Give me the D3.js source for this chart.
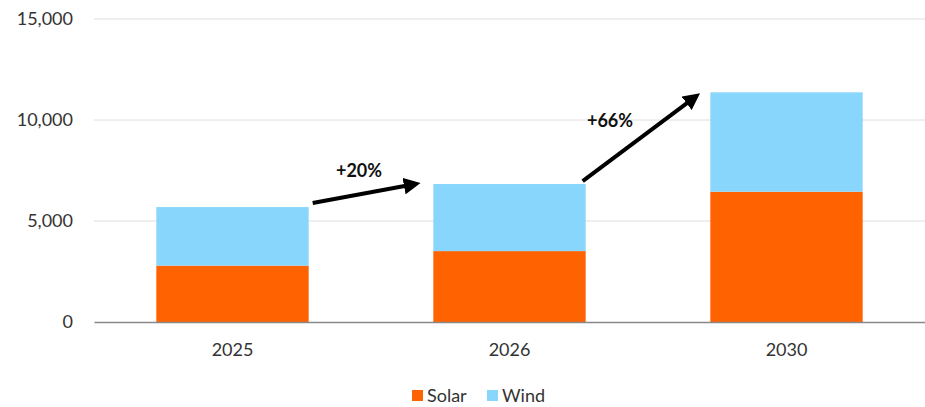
<!DOCTYPE html>
<html>
<head>
<meta charset="utf-8">
<script src="https://cdn.jsdelivr.net/npm/d3@7"></script>
<style>
  body { margin: 0; background: #fff; }
  text { font-family: Lato, "Open Sans", sans-serif; }
</style>
</head>
<body>
<svg id="chart" width="925" height="407"></svg>
<script>
// chart data
var years = ["2025", "2026", "2030"];
var solar = [2790, 3510, 6450];
var wind = [2900, 3320, 4920];
var yTicks = [0, 5000, 10000, 15000];
var growthLabels = ["+20%", "+66%"];
var seriesNames = ["Solar", "Wind"];
var seriesColors = ["#FF6200", "#89D6FD"];

var svg = d3.select("#chart");
var plotLeft = 94, plotRight = 925, plotTop = 19, plotBottom = 322;

var xScale = d3.scaleBand()
  .domain(years)
  .range([plotLeft, plotRight])
  .paddingInner(0.45)
  .paddingOuter(0.225);

var yScale = d3.scaleLinear()
  .domain([0, 15000])
  .range([plotBottom, plotTop]);

// gridlines
svg.append("g")
  .selectAll("line")
  .data(yTicks.slice(1))
  .enter().append("line")
  .attr("x1", plotLeft).attr("x2", plotRight)
  .attr("y1", d => yScale(d)).attr("y2", d => yScale(d))
  .attr("stroke", "#dedede").attr("stroke-width", 1);

// y axis labels
var yAxis = svg.append("g")
  .attr("transform", "translate(" + plotLeft + ",0)")
  .call(d3.axisLeft(yScale).tickValues(yTicks).tickSize(0).tickPadding(21)
    .tickFormat(d3.format(",")));
yAxis.select(".domain").remove();
yAxis.selectAll("text").attr("font-size", 18).attr("fill", "#333")
  .style("font-family", "Lato, sans-serif");

// stacked bars
var rows = years.map((y, i) => ({ year: y, Solar: solar[i], Wind: wind[i] }));
var stacked = d3.stack().keys(seriesNames)(rows);

svg.append("g")
  .selectAll("g")
  .data(stacked)
  .enter().append("g")
  .attr("fill", (d, i) => seriesColors[i])
  .selectAll("rect")
  .data(d => d)
  .enter().append("rect")
  .attr("x", d => xScale(d.data.year))
  .attr("width", xScale.bandwidth())
  .attr("y", d => yScale(d[1]))
  .attr("height", d => yScale(d[0]) - yScale(d[1]));

// baseline and x axis
var xAxis = svg.append("g")
  .attr("transform", "translate(0," + plotBottom + ")")
  .call(d3.axisBottom(xScale).tickSize(0).tickPadding(21));
xAxis.select(".domain").attr("stroke", "#888").attr("stroke-width", 1.5);
xAxis.selectAll("text").attr("font-size", 18).attr("fill", "#333")
  .style("font-family", "Lato, sans-serif");

// growth arrows
svg.append("defs").append("marker")
  .attr("id", "head")
  .attr("viewBox", "0 0 10 10")
  .attr("refX", 2).attr("refY", 5)
  .attr("markerWidth", 4.2).attr("markerHeight", 4.2)
  .attr("orient", "auto")
  .append("path").attr("d", "M0,0 L10,5 L0,10 z").attr("fill", "#000");

var totals = years.map((y, i) => solar[i] + wind[i]);
var labelX = [359, 610], labelY = [177, 127];
for (var i = 0; i < growthLabels.length; i++) {
  var x1 = xScale(years[i]) + xScale.bandwidth() + (i === 0 ? 4 : -3);
  var y1 = yScale(totals[i]) - (i === 0 ? 4 : 3);
  var x2 = xScale(years[i + 1]) - (i === 0 ? 26 : 21);
  var y2 = yScale(totals[i + 1]) + (i === 0 ? 1.5 : 9);
  svg.append("line")
    .attr("x1", x1).attr("y1", y1).attr("x2", x2).attr("y2", y2)
    .attr("stroke", "#000").attr("stroke-width", 4)
    .attr("marker-end", "url(#head)");
  svg.append("text")
    .attr("x", labelX[i])
    .attr("y", labelY[i])
    .attr("text-anchor", "middle")
    .attr("font-size", 18).attr("font-weight", "bold").attr("fill", "#111")
    .text(growthLabels[i]);
}

// legend
var legend = svg.append("g").attr("transform", "translate(412,388)");
var lx = [0, 75];
seriesNames.forEach(function (name, i) {
  legend.append("rect")
    .attr("x", lx[i]).attr("y", 2).attr("width", 11).attr("height", 11)
    .attr("fill", seriesColors[i]);
  legend.append("text")
    .attr("x", lx[i] + 15).attr("y", 14)
    .attr("font-size", 18).attr("fill", "#333")
    .text(name);
});
</script>
</body>
</html>
